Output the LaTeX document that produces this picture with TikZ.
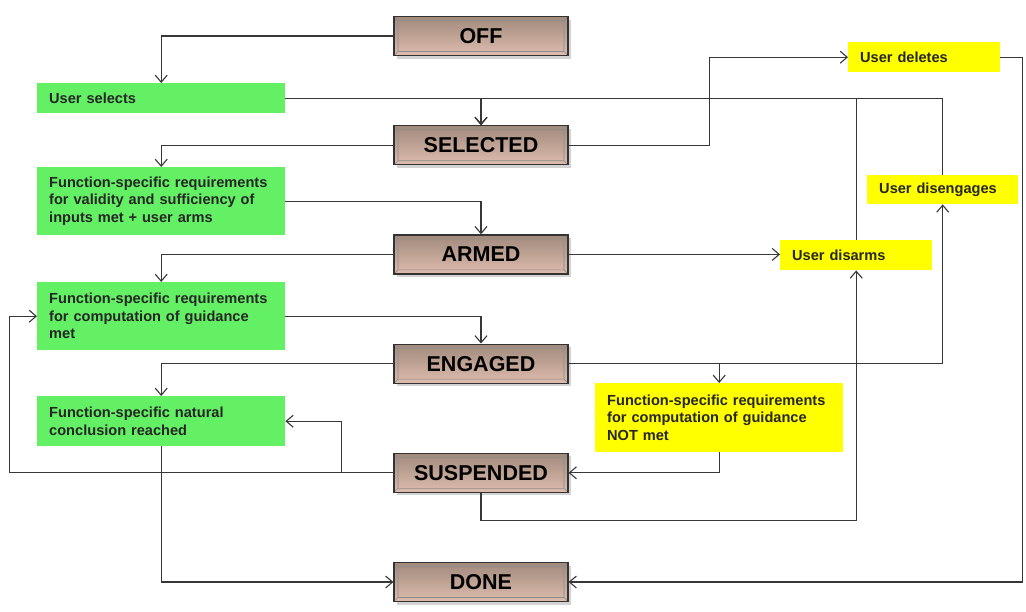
\documentclass[tikz,border=0pt]{standalone}
\usepackage{fontspec}
\setmainfont{Liberation Sans}
\usetikzlibrary{arrows.meta,calc,positioning,shadows}

\definecolor{modetop}{RGB}{160,138,124}
\definecolor{modebot}{RGB}{222,188,174}
\definecolor{condgreen}{RGB}{100,240,100}
\definecolor{eventyellow}{RGB}{255,255,0}
\definecolor{wirecol}{RGB}{55,55,55}

\tikzset{
  mode/.style={rectangle, minimum width=174pt, minimum height=39pt, inner sep=0pt,
    draw=black!80, line width=1.2pt, top color=modetop, bottom color=modebot,
    drop shadow={shadow xshift=3pt, shadow yshift=-3pt, opacity=.35},
    font=\fontsize{21.5}{24}\selectfont\bfseries,
    path picture={
      \draw[black!45, line width=.6pt]
        ($(path picture bounding box.south west)+(4pt,4pt)$) rectangle
        ($(path picture bounding box.north east)+(-4pt,-4pt)$)
        (path picture bounding box.south west) -- ++(4pt,4pt)
        (path picture bounding box.north west) -- ++(4pt,-4pt)
        (path picture bounding box.south east) -- ++(-4pt,4pt)
        (path picture bounding box.north east) -- ++(-4pt,-4pt);
    }},
  cond/.style={rectangle, fill=condgreen, anchor=north west, inner xsep=12pt,
    inner ysep=0pt, text width=224pt, align=left, text=black!85,
    font=\fontsize{14.6}{17.5}\selectfont\bfseries},
  event/.style={cond, fill=eventyellow, text width=128pt},
  wire/.style={draw=wirecol, line width=1.1pt}
}

\begin{document}
\begin{tikzpicture}[x=1pt, y=-1pt, >={Straight Barb[length=7pt,width=12pt]}, node distance=69pt]
  \useasboundingbox (0,0) rectangle (1026,611);

  % modes
  \node[mode] (off) at (481,36) {OFF};
  \node[mode] [below=of off] (selected) {SELECTED};
  \node[mode] [below=of selected] (armed) {ARMED};
  \node[mode] [below=of armed] (engaged) {ENGAGED};
  \node[mode] [below=of engaged] (suspended) {SUSPENDED};
  \node[mode] [below=of suspended] (done) {DONE};

  % conditions
  \node[cond, minimum height=30pt] (sel) at (37,83) {User selects};
  \node[cond, minimum height=68pt] (valid) at (37,167) {Function-specific requirements\\for validity and sufficiency of\\inputs met + user arms};
  \node[cond, minimum height=68pt] (comp) at (37,282) {Function-specific requirements\\for computation of guidance\\met};
  \node[cond, minimum height=50pt] (concl) at (37,396) {Function-specific natural\\conclusion reached};

  % user events
  \node[event, minimum height=30pt] (del) at (848,42) {User deletes};
  \node[event, minimum height=29pt, text width=127pt] (diseng) at (867,175) {User disengages};
  \node[event, minimum height=30pt] (disarm) at (780,240) {User disarms};
  \node[event, minimum height=69pt, text width=224pt] (notmet) at (595,383) {Function-specific requirements\\for computation of guidance\\NOT met};

  \draw[wire,->] (off.west) -| (sel.north);
  \draw[wire,->] (sel.east) -| (selected.north);
  \draw[wire,->] (selected.west) -| (valid.north);
  \draw[wire,->] (selected.east) -- ++(141,0) |- (del.west);
  \draw[wire,->] (del.east) -- ++(22,0) |- (done.east);
  \draw[wire,->] (valid.east) -| (armed.north);
  \draw[wire,->] (armed.west) -| (comp.north);
  \draw[wire,->] (armed.east) -- (armed.east -| disarm.west);
  \draw[wire,->] (comp.east) -| (engaged.north);
  \draw[wire,->] (engaged.west) -| (concl.north);
  \draw[wire,->] (engaged.east) -| (diseng.south);
  \draw[wire,->] (engaged.east) -| (notmet.north);
  \draw[wire,->] (notmet.south) |- (suspended.east);
  \draw[wire,->] (suspended.west) -- ++(-384,0) |- (comp.west);
  \draw[wire,->] (suspended.west) -- ++(-52,0) |- (concl.east);
  \draw[wire,->] (suspended.south) -- ++(0,28) -| (disarm.south);
  \draw[wire,->] (concl.south) |- (done.west);
  \draw[wire,->] (diseng.north) |- (sel.east -| selected.north) -- (selected.north);
  \draw[wire,->] (disarm.north) |- (sel.east -| selected.north) -- (selected.north);
\end{tikzpicture}
\end{document}
